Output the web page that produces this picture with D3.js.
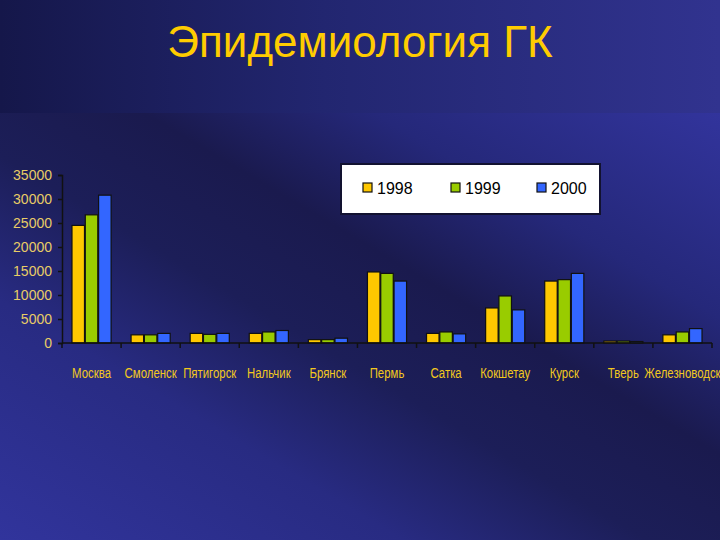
<!DOCTYPE html>
<html><head><meta charset="utf-8">
<script src="https://cdn.jsdelivr.net/npm/d3@7/dist/d3.min.js"></script>
<style>html,body{margin:0;padding:0;background:#1b1d55;}svg{display:block;}</style>
</head><body>
<script>
const title = "Эпидемиология ГК";
const cities = ["Москва","Смоленск","Пятигорск","Нальчик","Брянск","Пермь","Сатка","Кокшетау","Курск","Тверь","Железноводск"];
const years = ["1998","1999","2000"];
const values1998 = [24500,1700,2000,2000,700,14800,2000,7300,12900,400,1700];
const values1999 = [26700,1700,1800,2300,700,14500,2300,9800,13200,400,2300];
const values2000 = [30800,2000,2000,2600,1000,12900,1900,6900,14500,300,3000];
const yTicks = [0,5000,10000,15000,20000,25000,30000,35000];
const colors = ["#FFC800","#99CC00","#3366FF"];

const series = [values1998, values1999, values2000];
const W = 720, H = 540;
const svg = d3.select("body").append("svg").attr("width", W).attr("height", H);
const defs = svg.append("defs");

// backgrounds
const gTop = defs.append("linearGradient").attr("id","gTop").attr("x1","0").attr("y1","0").attr("x2","1").attr("y2","0");
[[0,"#15174a"],[0.45,"#222670"],[1,"#31338f"]].forEach(s=>gTop.append("stop").attr("offset",s[0]).attr("stop-color",s[1]));
const gLow = defs.append("linearGradient").attr("id","gLow")
  .attr("x1",0).attr("y1",1).attr("x2",1).attr("y2",0);
[[0,"#31349c"],[0.28,"#282b82"],[0.45,"#1c1e58"],[0.6,"#1a1a4e"],[0.76,"#25287a"],[1,"#32349c"]]
  .forEach(s=>gLow.append("stop").attr("offset",s[0]).attr("stop-color",s[1]));
svg.append("rect").attr("x",0).attr("y",0).attr("width",W).attr("height",113).attr("fill","url(#gTop)");
svg.append("rect").attr("x",0).attr("y",113).attr("width",W).attr("height",H-113).attr("fill","url(#gLow)");

// title
svg.append("text").attr("x",360).attr("y",57).attr("text-anchor","middle")
  .attr("font-family","'Liberation Sans', Arial, sans-serif").attr("font-size",44)
  .attr("fill","#FFCC00").text(title);

// scales
const x0 = d3.scaleBand().domain(cities).range([62,712]).paddingInner(0).paddingOuter(0);
const x1 = d3.scaleBand().domain(years).range([0,x0.bandwidth()]).paddingInner(0.06).paddingOuter(0.75);
const y = d3.scaleLinear().domain([0,35000]).range([343,175]);

// bars
const gBars = svg.append("g");
cities.forEach((c,i)=>{
  years.forEach((yr,j)=>{
    const v = series[j][i];
    gBars.append("rect")
      .attr("x", x0(c)+x1(yr)).attr("y", y(v))
      .attr("width", x1.bandwidth()).attr("height", y(0)-y(v))
      .attr("fill", colors[j]).attr("stroke","#111").attr("stroke-width",1.2);
  });
});

// y axis
const yAxis = d3.axisLeft(y).tickValues(yTicks).tickSize(4).tickPadding(6).tickFormat(d3.format("d"));
const gy = svg.append("g").attr("transform","translate(62,0)").call(yAxis);
gy.select(".domain").attr("stroke","#111").attr("stroke-width",1.5);
gy.selectAll(".tick line").attr("stroke","#111").attr("stroke-width",1.5);
gy.selectAll(".tick text").attr("font-family","'Liberation Sans', Arial, sans-serif").attr("font-size",14)
  .attr("fill","#e8cc66");

// x axis line and ticks at band boundaries
const bounds = cities.map(c=>x0(c)).concat([x0.range()[1]]);
svg.append("line").attr("x1",62).attr("x2",712).attr("y1",y(0)).attr("y2",y(0)).attr("stroke","#111").attr("stroke-width",1.5);
svg.selectAll(".xt").data(bounds).enter().append("line")
  .attr("x1",d=>d).attr("x2",d=>d).attr("y1",y(0)).attr("y2",y(0)+5).attr("stroke","#111").attr("stroke-width",1.5);

// category labels (condensed)
svg.selectAll(".xl").data(cities).enter().append("text")
  .attr("transform", d=>`translate(${x0(d)+x0.bandwidth()/2},378) scale(0.76,1)`)
  .attr("text-anchor","middle")
  .attr("font-family","'Liberation Sans', Arial, sans-serif").attr("font-size",15)
  .attr("fill","#f2c81e").text(d=>d);

// legend
svg.append("rect").attr("x",341).attr("y",164).attr("width",259).attr("height",50)
  .attr("fill","#ffffff").attr("stroke","#121230").attr("stroke-width",2);
const legX = [363,451,537];
years.forEach((yr,j)=>{
  svg.append("rect").attr("x",legX[j]).attr("y",183).attr("width",9).attr("height",9)
    .attr("fill",colors[j]).attr("stroke","#111").attr("stroke-width",1.2);
  svg.append("text").attr("x",legX[j]+14).attr("y",193.5)
    .attr("font-family","'Liberation Sans', Arial, sans-serif").attr("font-size",16)
    .attr("fill","#000").text(yr);
});
</script>
</body></html>
